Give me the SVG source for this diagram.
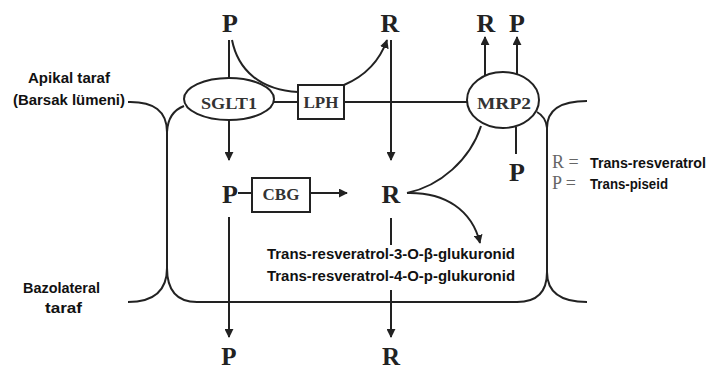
<svg xmlns="http://www.w3.org/2000/svg" width="714" height="372" viewBox="0 0 714 372">
<style>
.ln{fill:none;stroke:#222;stroke-width:2}
.sym{font-family:"Liberation Serif",serif;font-weight:bold;font-size:26px;fill:#222;text-anchor:middle}
.enz{font-family:"Liberation Serif",serif;font-weight:bold;font-size:17px;fill:#333;text-anchor:middle}
.lbl{font-family:"Liberation Sans",Arial,sans-serif;font-weight:bold;font-size:14px;fill:#111}
.leg{font-family:"Liberation Serif",serif;font-size:18px;fill:#666}
.shape{fill:#fff;stroke:#222;stroke-width:2}
</style>
<defs>
<marker id="ah" viewBox="0 0 10 10" refX="9" refY="5" markerWidth="9" markerHeight="9" markerUnits="userSpaceOnUse" orient="auto">
<path d="M0,0 L10,5 L0,10 z" fill="#222"/>
</marker>
</defs>
<rect width="714" height="372" fill="#fff"/>

<g id="membrane">
<path class="ln" d="M128,102 Q167,101 167,132 L167,272"/>
<path class="ln" d="M184,106 Q168,112 167,132"/>
<path class="ln" d="M128,302 Q167,302 167,268 Q167,302 197,302 L517,302 Q547,302 547,272 Q547,302 587,302"/>
<path class="ln" d="M547,272 L547,128 Q547,101 587,101"/>
<path class="ln" d="M537,112 Q546,117 547,128"/>
<path class="ln" d="M274,102 L298,102 M344,102 L467,102"/>
</g>

<g id="connectors">
<path class="ln" d="M229,40 L229,78"/>
<path class="ln" d="M232,40 C238,70 260,90 298,92"/>
<path class="ln" d="M344,85 C365,76 380,60 387,40" marker-end="url(#ah)"/>
<path class="ln" d="M391,40 L391,160" marker-end="url(#ah)"/>
<path class="ln" d="M229,119 L229,160" marker-end="url(#ah)"/>
<path class="ln" d="M485,77 L485,37" marker-end="url(#ah)"/>
<path class="ln" d="M517,74 L517,37" marker-end="url(#ah)"/>
<path class="ln" d="M516,127 L516,154"/>
<path class="ln" d="M407,193 C440,186 470,160 481,126"/>
<path class="ln" d="M407,193 C445,192 472,210 480,243" marker-end="url(#ah)"/>
<path class="ln" d="M238,193 L252,193"/>
<path class="ln" d="M310,193 L347,193" marker-end="url(#ah)"/>
<path class="ln" d="M391,218 L391,245"/>
<path class="ln" d="M391,290 L391,337" marker-end="url(#ah)"/>
<path class="ln" d="M229,217 L229,337" marker-end="url(#ah)"/>
</g>

<g id="node-SGLT1">
<ellipse class="shape" cx="229" cy="99" rx="45" ry="21"/>
<text class="enz" x="229" y="109" textLength="56" lengthAdjust="spacingAndGlyphs">SGLT1</text>
</g>
<g id="node-LPH">
<rect class="shape" x="298" y="85" width="46" height="34"/>
<text class="enz" x="321" y="108">LPH</text>
</g>
<g id="node-MRP2">
<ellipse class="shape" cx="503" cy="100" rx="36" ry="28"/>
<text class="enz" x="504" y="109" textLength="54" lengthAdjust="spacingAndGlyphs">MRP2</text>
</g>
<g id="node-CBG">
<rect class="shape" x="252" y="178" width="58" height="34"/>
<text class="enz" x="281" y="200">CBG</text>
</g>

<g id="node-P-top"><text class="sym" x="230" y="32">P</text></g>
<g id="node-R-top"><text class="sym" x="390" y="32">R</text></g>
<g id="node-R-out"><text class="sym" x="486" y="32">R</text></g>
<g id="node-P-out"><text class="sym" x="517" y="32">P</text></g>
<g id="node-P-in"><text class="sym" x="517" y="181">P</text></g>
<g id="node-P-mid"><text class="sym" x="230" y="203">P</text></g>
<g id="node-R-mid"><text class="sym" x="391" y="203">R</text></g>
<g id="node-P-bot"><text class="sym" x="229" y="365" style="font-size:25px">P</text></g>
<g id="node-R-bot"><text class="sym" x="391" y="365" style="font-size:25px">R</text></g>

<g id="glucuronides">
<text class="lbl" x="267" y="259" textLength="248" lengthAdjust="spacingAndGlyphs">Trans-resveratrol-3-O-β-glukuronid</text>
<text class="lbl" x="267" y="281" textLength="248" lengthAdjust="spacingAndGlyphs">Trans-resveratrol-4-O-p-glukuronid</text>
</g>

<g id="labels">
<text class="lbl" x="28" y="83" textLength="82" lengthAdjust="spacingAndGlyphs">Apikal taraf</text>
<text class="lbl" x="13" y="105" textLength="112" lengthAdjust="spacingAndGlyphs">(Barsak lümeni)</text>
<text class="lbl" x="23" y="293" textLength="77" lengthAdjust="spacingAndGlyphs">Bazolateral</text>
<text class="lbl" x="45" y="313" textLength="37" lengthAdjust="spacingAndGlyphs">taraf</text>
</g>

<g id="legend">
<text class="leg" x="552" y="168">R =</text>
<text class="lbl" x="590" y="168" textLength="116" lengthAdjust="spacingAndGlyphs">Trans-resveratrol</text>
<text class="leg" x="552" y="189">P =</text>
<text class="lbl" x="590" y="189" textLength="78" lengthAdjust="spacingAndGlyphs">Trans-piseid</text>
</g>
</svg>
